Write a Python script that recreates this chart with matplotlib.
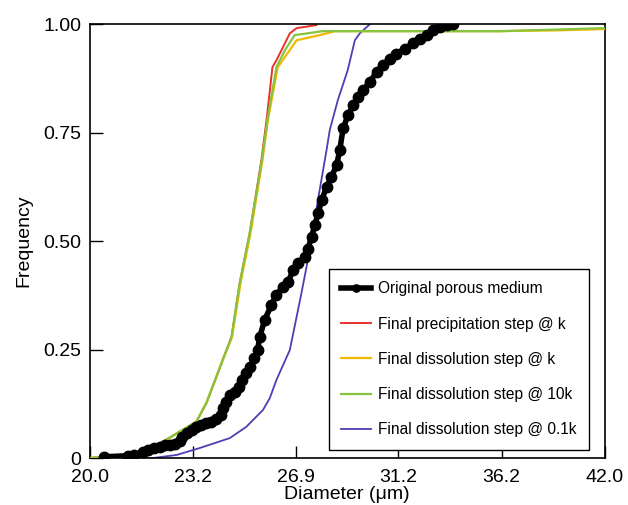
import matplotlib
matplotlib.use("Agg")
import matplotlib.pyplot as plt

plt.rcParams['font.family'] = ['Liberation Sans', 'DejaVu Sans']

# tick positions (log spaced diameter axis)
x_ticks = [20.0, 23.2, 26.9, 31.2, 36.2, 42.0]
x_tick_labels = ['20.0', '23.2', '26.9', '31.2', '36.2', '42.0']
y_ticks = [0, 0.25, 0.5, 0.75, 1.0]
y_tick_labels = ['0', '0.25', '0.50', '0.75', '1.00']

# original porous medium
orig_d = [20.42, 21.12, 21.32, 21.60, 21.75, 21.94, 22.12, 22.28, 22.44, 22.61,
          22.77, 22.85, 22.99, 23.16, 23.32, 23.49, 23.66, 23.83, 24.00, 24.15,
          24.23, 24.32, 24.47, 24.65, 24.79, 24.89, 25.06, 25.18, 25.34, 25.47,
          25.55, 25.73, 25.98, 26.17, 26.42, 26.61, 26.81, 27.00, 27.26, 27.39,
          27.53, 27.66, 27.79, 27.93, 28.13, 28.33, 28.54, 28.67, 28.81, 29.01,
          29.23, 29.44, 29.65, 29.94, 30.23, 30.52, 30.81, 31.11, 31.49, 31.87,
          32.17, 32.49, 32.80, 33.12, 33.44, 33.76]
orig_f = [0.003, 0.005, 0.007, 0.0145, 0.018, 0.022, 0.026, 0.030, 0.031, 0.032,
          0.039, 0.049, 0.057, 0.065, 0.071, 0.076, 0.080, 0.084, 0.089, 0.099,
          0.115, 0.130, 0.145, 0.153, 0.164, 0.180, 0.195, 0.210, 0.230, 0.249,
          0.280, 0.318, 0.353, 0.376, 0.395, 0.406, 0.433, 0.449, 0.464, 0.483,
          0.510, 0.537, 0.564, 0.594, 0.625, 0.648, 0.675, 0.710, 0.760, 0.790,
          0.813, 0.832, 0.848, 0.867, 0.890, 0.906, 0.921, 0.932, 0.944, 0.956,
          0.967, 0.975, 0.986, 0.994, 0.999, 1.0]

# final precipitation step @ k
prec_d = [20.0, 20.29, 21.70, 22.77, 23.32, 23.66, 24.00, 24.22, 24.53, 24.82,
          25.18, 25.61, 25.80, 26.02, 26.17, 26.49, 26.68, 26.94, 27.72]
prec_f = [0.0, 0.002, 0.0145, 0.061, 0.084, 0.127, 0.187, 0.226, 0.279, 0.403,
          0.518, 0.687, 0.779, 0.901, 0.917, 0.956, 0.979, 0.991, 0.998]

# final dissolution step @ k
diss_k_d = [20.0, 20.29, 21.70, 22.77, 23.32, 23.66, 24.00, 24.22, 24.55, 24.85,
            25.21, 25.65, 25.85, 26.22, 26.94, 27.86, 28.47, 36.08, 39.36, 42.0]
diss_k_f = [0.0, 0.002, 0.0145, 0.061, 0.084, 0.127, 0.187, 0.226, 0.279, 0.403,
            0.518, 0.687, 0.779, 0.901, 0.963, 0.975, 0.984, 0.984, 0.986, 0.989]

# final dissolution step @ 10k
diss_10k_d = [20.0, 20.29, 21.70, 22.77, 23.32, 23.66, 24.00, 24.22, 24.53, 24.82,
              25.18, 25.63, 25.83, 26.17, 26.49, 26.87, 27.98, 36.08, 42.0]
diss_10k_f = [0.0, 0.002, 0.0145, 0.061, 0.084, 0.127, 0.187, 0.226, 0.279, 0.403,
              0.518, 0.687, 0.779, 0.901, 0.940, 0.975, 0.984, 0.984, 0.991]

# final dissolution step @ 0.1k
diss_01k_d = [20.0, 21.90, 22.66, 23.43, 24.47, 25.06, 25.67, 25.92, 26.17, 26.68,
              27.13, 27.38, 27.78, 28.13, 28.26, 28.59, 29.00, 29.30, 29.51, 29.94]
diss_01k_f = [0.0, 0.0, 0.007, 0.023, 0.046, 0.072, 0.111, 0.138, 0.180, 0.249,
              0.380, 0.456, 0.594, 0.710, 0.756, 0.825, 0.894, 0.963, 0.979, 1.0]

fig = plt.figure(figsize=(6.28, 5.05), dpi=100)
ax = fig.add_axes([0.143, 0.093, 0.820, 0.859])

ax.plot(diss_01k_d, diss_01k_f, color='#4b3fb3', lw=1.3,
        label='Final dissolution step @ 0.1k', zorder=2)
ax.plot(diss_k_d, diss_k_f, color='#f2b800', lw=1.6,
        label='Final dissolution step @ k', zorder=3)
ax.plot(prec_d, prec_f, color='#e8322a', lw=1.4,
        label='Final precipitation step @ k', zorder=2.5)
ax.plot(diss_10k_d, diss_10k_f, color='#86c440', lw=1.6,
        label='Final dissolution step @ 10k', zorder=3.5)
ax.plot(orig_d, orig_f, color='black', lw=4, marker='o', ms=7.5,
        label='Original porous medium', zorder=4)

ax.set_xscale('log')
ax.set_xlim(20.0, 42.0)
ax.set_ylim(0, 1.0)
ax.set_xticks(x_ticks)
ax.set_xticklabels(x_tick_labels)
ax.minorticks_off()
ax.set_yticks(y_ticks)
ax.set_yticklabels(y_tick_labels)
ax.tick_params(direction='in', length=9, width=1, labelsize=14)
ax.tick_params(axis='x', pad=8)
ax.tick_params(axis='y', pad=6)

for s in ax.spines.values():
    s.set_linewidth(1.2)

ax.set_xlabel('Diameter (μm)', fontsize=14, labelpad=0)
ax.set_ylabel('Frequency', fontsize=14, labelpad=8)

handles, labels = ax.get_legend_handles_labels()
order = ['Original porous medium', 'Final precipitation step @ k',
         'Final dissolution step @ k', 'Final dissolution step @ 10k',
         'Final dissolution step @ 0.1k']
hmap = dict(zip(labels, handles))
leg = ax.legend([hmap[l] for l in order], order, loc='upper left',
                bbox_to_anchor=(329 / 628, 1 - 269 / 505),
                bbox_transform=fig.transFigure, fontsize=11.2,
                frameon=True, fancybox=False, framealpha=1,
                edgecolor='black', labelspacing=1.3, handlelength=1.9,
                handletextpad=0.45, borderpad=0.8, borderaxespad=0,
                markerscale=0.7)
leg.get_frame().set_linewidth(1.0)

fig.savefig('out.png', dpi=100)
